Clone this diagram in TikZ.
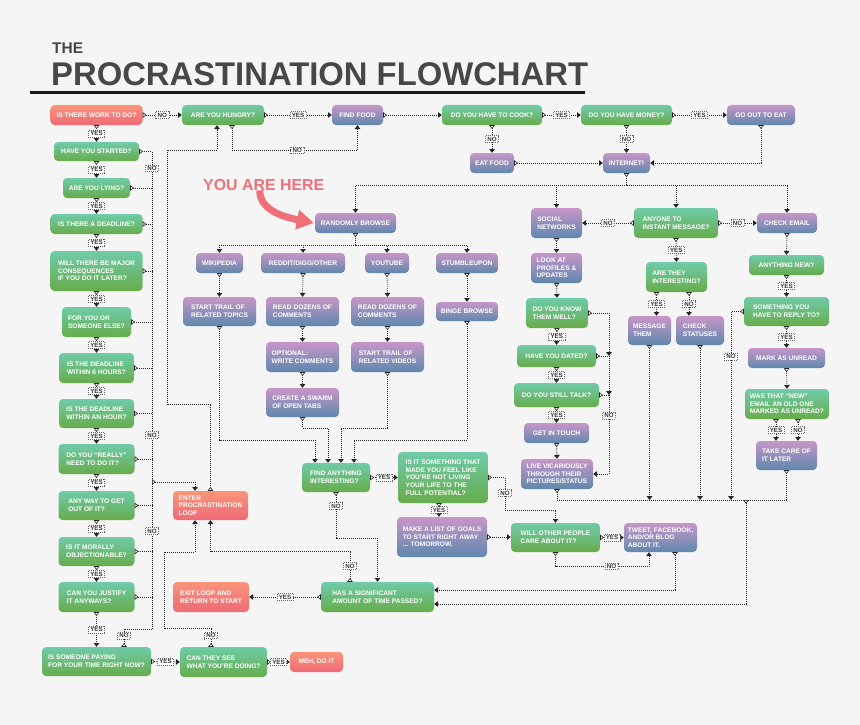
\documentclass[tikz,border=0pt]{standalone}
\usepackage{fontspec}
\setmainfont{Liberation Sans}
\usetikzlibrary{arrows.meta}

\definecolor{paper}{HTML}{F5F5F5}
\definecolor{ink}{HTML}{474747}
\definecolor{qtop}{HTML}{6FCBA9}
\definecolor{qbot}{HTML}{67AC4B}
\definecolor{atop}{HTML}{C896C8}
\definecolor{abot}{HTML}{5E88AD}
\definecolor{rtop}{HTML}{F8957A}
\definecolor{rbot}{HTML}{EF6A76}
\definecolor{herered}{HTML}{EF7078}

\begin{document}
\begin{tikzpicture}[
        x=1pt, y=-1pt,
        box/.style={rectangle, rounded corners=4pt, inner sep=2pt, align=left, text=white, font=\fontsize{6.6}{7.7}\selectfont\bfseries},
        question/.style={box, top color=qtop, bottom color=qbot},
        action/.style={box, top color=atop, bottom color=abot},
        terminal/.style={box, top color=rtop, bottom color=rbot},
        answer/.style={rectangle, draw=black!60, fill=white, line width=0.5pt, inner xsep=2pt, inner ysep=1.2pt, text=black!80, font=\fontsize{6.2}{6.4}\selectfont\bfseries},
        dotline/.style={draw=black!85, line width=0.9pt, dash pattern=on 0.9pt off 1.1pt},
        flow/.style={dotline, {Triangle[reversed, fill=white, line width=0.6pt, length=3.8pt, width=5.5pt]}-{Triangle[length=3.8pt, width=5.5pt]}},
        flowin/.style={dotline, -{Triangle[length=3.8pt, width=5.5pt]}},
        flowout/.style={dotline, {Triangle[reversed, fill=white, line width=0.6pt, length=3.8pt, width=5.5pt]}-}
    ]
        \fill[paper] (0,0) rectangle (860,725);

        % --- TITLE ---
        \node[anchor=base west, inner sep=0pt, text height=11pt, text depth=0pt, text=ink, font=\fontsize{15.5}{16}\selectfont\bfseries] (the) at (52,54) {THE};
        \node[anchor=base west, inner sep=0pt, text height=23.5pt, text depth=0pt, text=ink, font=\fontsize{32.8}{34}\selectfont\bfseries] (title) at (51,85) {PROCRASTINATION FLOWCHART};
        \draw[black!90, line width=2.5pt] (30,92.5) -- (585,92.5);

        % --- WORK QUESTIONS ---
        \node[terminal, minimum width=92pt, minimum height=20pt] (work) at (96.5,115) {IS THERE WORK TO DO?};
        \node[question, minimum width=85pt, minimum height=19pt] (started) at (96.5,151.5) {HAVE YOU STARTED?};
        \node[question, minimum width=67pt, minimum height=20pt] (lying) at (96.5,188) {ARE YOU LYING?};
        \node[question, minimum width=92pt, minimum height=20pt] (deadline) at (96.5,224) {IS THERE A DEADLINE?};
        \node[question, minimum width=92pt, minimum height=40pt] (major) at (96.5,271) {WILL THERE BE MAJOR\\CONSEQUENCES\\IF YOU DO IT LATER?};
        \node[question, minimum width=69pt, minimum height=30pt] (foryou) at (96.5,322) {FOR YOU OR\\SOMEONE ELSE?};
        \node[question, minimum width=75pt, minimum height=30pt] (sixhours) at (96.5,368) {IS THE DEADLINE\\WITHIN 6 HOURS?};
        \node[question, minimum width=75pt, minimum height=29pt] (anhour) at (96.5,413.5) {IS THE DEADLINE\\WITHIN AN HOUR?};
        \node[question, minimum width=76pt, minimum height=30pt] (really) at (96.5,459) {DO YOU ``REALLY''\\NEED TO DO IT?};
        \node[question, minimum width=76pt, minimum height=29pt] (getout) at (96.5,505.5) {ANY WAY TO GET\\OUT OF IT?};
        \node[question, minimum width=76pt, minimum height=29pt] (moral) at (96.5,551.5) {IS IT MORALLY\\OBJECTIONABLE?};
        \node[question, minimum width=76pt, minimum height=30pt] (justify) at (96.5,597) {CAN YOU JUSTIFY\\IT ANYWAYS?};
        \node[question, minimum width=109pt, minimum height=29pt] (paying) at (96.5,661.5) {IS SOMEONE PAYING\\FOR YOUR TIME RIGHT NOW?};
        \node[question, minimum width=87pt, minimum height=30pt] (cansee) at (223.5,662) {CAN THEY SEE\\WHAT YOU'RE DOING?};
        \node[terminal, minimum width=53pt, minimum height=20pt] (meh) at (316.5,662) {MEH, DO IT};

        % --- LOOP ---
        \node[terminal, minimum width=75pt, minimum height=29pt] (loop) at (210.5,505.5) {ENTER\\PROCRASTINATION\\LOOP};
        \node[terminal, minimum width=76pt, minimum height=30pt] (exit) at (211,597) {EXIT LOOP AND\\RETURN TO START};
        \node[question, minimum width=113pt, minimum height=30pt] (passed) at (377.5,597) {HAS A SIGNIFICANT\\AMOUNT OF TIME PASSED?};

        % --- FOOD ---
        \node[question, minimum width=82pt, minimum height=20pt] (hungry) at (223,115) {ARE YOU HUNGRY?};
        \node[action, minimum width=51pt, minimum height=20pt] (findfood) at (357.5,115) {FIND FOOD};
        \node[question, minimum width=100pt, minimum height=20pt] (cook) at (492,115) {DO YOU HAVE TO COOK?};
        \node[question, minimum width=91pt, minimum height=20pt] (money) at (626.5,115) {DO YOU HAVE MONEY?};
        \node[action, minimum width=68pt, minimum height=20pt] (goout) at (761,115) {GO OUT TO EAT};
        \node[action, minimum width=44pt, minimum height=20pt] (eatfood) at (492,163) {EAT FOOD};
        \node[action, minimum width=47pt, minimum height=20pt] (internet) at (626.5,163) {INTERNET!};

        % --- BROWSING ---
        \node[inner sep=0pt, anchor=base west, text=herered, font=\fontsize{15.9}{16}\selectfont\bfseries] (youarehere) at (203,190) {YOU ARE HERE};
        \node[action, minimum width=81pt, minimum height=20pt] (browse) at (355.5,223) {RANDOMLY BROWSE};
        \node[action, minimum width=47pt, minimum height=20pt] (wiki) at (219.5,263) {WIKIPEDIA};
        \node[action, minimum width=84pt, minimum height=20pt] (reddit) at (303,263) {REDDIT/DIGG/OTHER};
        \node[action, minimum width=44pt, minimum height=20pt] (youtube) at (387,263) {YOUTUBE};
        \node[action, minimum width=62pt, minimum height=20pt] (stumble) at (467,263) {STUMBLEUPON};
        \node[action, minimum width=73pt, minimum height=29pt] (topics) at (219.5,311.5) {START TRAIL OF\\RELATED TOPICS};
        \node[action, minimum width=73pt, minimum height=29pt] (redditread) at (302.5,311.5) {READ DOZENS OF\\COMMENTS};
        \node[action, minimum width=73pt, minimum height=29pt] (ytread) at (387.5,311.5) {READ DOZENS OF\\COMMENTS};
        \node[action, minimum width=62pt, minimum height=19pt] (binge) at (467,311.5) {BINGE BROWSE};
        \node[action, minimum width=73pt, minimum height=30pt] (optional) at (302.5,357) {OPTIONAL:\\WRITE COMMENTS};
        \node[action, minimum width=73pt, minimum height=30pt] (videos) at (387.5,357) {START TRAIL OF\\RELATED VIDEOS};
        \node[action, minimum width=73pt, minimum height=29pt] (swarm) at (302.5,402.5) {CREATE A SWARM\\OF OPEN TABS};
        \node[question, minimum width=68pt, minimum height=29pt] (interesting) at (336,477.5) {FIND ANYTHING\\INTERESTING?};
        \node[question, minimum width=90pt, minimum height=51pt] (potential) at (443,477.5) {IS IT SOMETHING THAT\\MADE YOU FEEL LIKE\\YOU'RE NOT LIVING\\YOUR LIFE TO THE\\FULL POTENTIAL?};
        \node[action, minimum width=90pt, minimum height=40pt] (goals) at (442,537) {MAKE A LIST OF GOALS\\TO START RIGHT AWAY\\... TOMORROW.};
        \node[question, minimum width=89pt, minimum height=29pt] (care) at (555.5,537.5) {WILL OTHER PEOPLE\\CARE ABOUT IT?};
        \node[action, minimum width=73pt, minimum height=29pt] (tweet) at (660.5,537.5) {TWEET, FACEBOOK,\\AND/OR BLOG\\ABOUT IT.};

        % --- SOCIAL ---
        \node[action, minimum width=51pt, minimum height=30pt] (social) at (556.5,223) {SOCIAL\\NETWORKS};
        \node[action, minimum width=51pt, minimum height=30pt] (profiles) at (556.5,268) {LOOK AT\\PROFILES \&\\UPDATES};
        \node[question, minimum width=62pt, minimum height=30pt] (knowwell) at (557,313) {DO YOU KNOW\\THEM WELL?};
        \node[question, minimum width=79pt, minimum height=22pt] (dated) at (556.5,356) {HAVE YOU DATED?};
        \node[question, minimum width=85pt, minimum height=24pt] (talk) at (556.5,395) {DO YOU STILL TALK?};
        \node[action, minimum width=65pt, minimum height=20pt] (touch) at (556.5,433) {GET IN TOUCH};
        \node[action, minimum width=72pt, minimum height=30pt] (vicarious) at (557,474) {LIVE VICARIOUSLY\\THROUGH THEIR\\PICTURES/STATUS};
        \node[question, minimum width=84pt, minimum height=30pt] (instant) at (676,223) {ANYONE TO\\INSTANT MESSAGE?};
        \node[question, minimum width=61pt, minimum height=30pt] (worth) at (676.5,277) {ARE THEY\\INTERESTING?};
        \node[action, minimum width=43pt, minimum height=29pt] (message) at (649.5,330.5) {MESSAGE\\THEM};
        \node[action, minimum width=48pt, minimum height=29pt] (statuses) at (700,330.5) {CHECK\\STATUSES};

        % --- EMAIL ---
        \node[action, minimum width=60pt, minimum height=20pt] (email) at (787,223) {CHECK EMAIL};
        \node[question, minimum width=75pt, minimum height=20pt] (anynew) at (786.5,265) {ANYTHING NEW?};
        \node[question, minimum width=85pt, minimum height=29pt] (reply) at (786.5,311.5) {SOMETHING YOU\\HAVE TO REPLY TO?};
        \node[action, minimum width=77pt, minimum height=20pt] (unread) at (786.5,358) {MARK AS UNREAD};
        \node[question, minimum width=84pt, minimum height=30pt] (oldone) at (787,404) {WAS THAT ``NEW''\\EMAIL AN OLD ONE\\MARKED AS UNREAD?};
        \node[action, minimum width=61pt, minimum height=29pt] (later) at (786.5,455.5) {TAKE CARE OF\\IT LATER};

        % --- JUNCTIONS ---
        \coordinate (bus) at (152,0);
        \coordinate (busout) at (152,482);
        \coordinate (busend) at (152,629);
        \coordinate (net) at (626.5,185);
        \coordinate (web) at (355.5,245);
        \coordinate (datedjoin) at (609,356);
        \coordinate (talkjoin) at (609,395);
        \coordinate (hub) at (746,500);

        % --- CONNECTIONS: WORK ---
        \draw[flow] (work.south) -- node[answer] (y1) {YES} (started.north);
        \draw[flow] (started.south) -- node[answer] (y2) {YES} (lying.north);
        \draw[flow] (lying.south) -- node[answer] (y3) {YES} (deadline.north);
        \draw[flow] (deadline.south) -- node[answer] (y4) {YES} (major.north);
        \draw[flow] (major.south) -- node[answer] (y5) {YES} (foryou.north);
        \draw[flow] (foryou.south) -- node[answer] (y6) {YES} (sixhours.north);
        \draw[flow] (sixhours.south) -- node[answer] (y7) {YES} (anhour.north);
        \draw[flow] (anhour.south) -- node[answer] (y8) {YES} (really.north);
        \draw[flow] (really.south) -- node[answer] (y9) {YES} (getout.north);
        \draw[flow] (getout.south) -- node[answer] (y10) {YES} (moral.north);
        \draw[flow] (moral.south) -- node[answer] (y11) {YES} (justify.north);
        \draw[flow] (justify.south) -- node[answer] (y12) {YES} (paying.north);
        \draw[flow] (paying.east) -- node[answer] (y13) {YES} (cansee.west);
        \draw[flow] (cansee.east) -- node[answer] (y14) {YES} (meh.west);

        \draw[flowout] (started.east) -- (started.east -| bus);
        \draw[flowout] (lying.east) -- (lying.east -| bus);
        \draw[flowout] (deadline.east) -- (deadline.east -| bus);
        \draw[flowout] (major.east) -- (major.east -| bus);
        \draw[flowout] (foryou.east) -- (foryou.east -| bus);
        \draw[flowout] (sixhours.east) -- (sixhours.east -| bus);
        \draw[flowout] (anhour.east) -- (anhour.east -| bus);
        \draw[flowout] (really.east) -- (really.east -| bus);
        \draw[flowout] (getout.east) -- (getout.east -| bus);
        \draw[flowout] (moral.east) -- (moral.east -| bus);
        \draw[flowout] (justify.east) -- (justify.east -| bus);
        \draw[dotline] (started.east -| bus) -- node[answer, pos=0.035] (n1) {NO} node[answer, pos=0.594] (n2) {NO} node[answer, pos=0.795] (n3) {NO} (busend);
        \draw[flowout] ([xshift=27.5pt]paying.north) |- node[answer, pos=0.32] (n4) {NO} (busend);
        \draw[flow] (busout) -| ([xshift=-15.5pt]loop.north);

        % --- CONNECTIONS: LOOP ---
        \draw[flow] (loop.north) -- ++(0,-86) -| (167,150) -| ([xshift=-6pt]hungry.south);
        \draw[flow] ([xshift=-12.5pt]cansee.north) -- node[answer, pos=0.64] (n5) {NO} ++(0,-18) -| (164,552) -| ([xshift=-15.5pt]loop.south);
        \draw[flow] ([xshift=-27.5pt]passed.north) -- node[answer, pos=0.53] (n6) {NO} ++(0,-30) -| (loop.south);
        \draw[flow] (passed.west) -- node[answer] (y15) {YES} (exit.east);

        % --- CONNECTIONS: FOOD ---
        \draw[flow] (work.east) -- node[answer] (n7) {NO} (hungry.west);
        \draw[flow] (hungry.east) -- node[answer] (y16) {YES} (findfood.west);
        \draw[flow] ([xshift=9pt]hungry.south) -- ++(0,25) -| node[answer, pos=0.26] (n8) {NO} (findfood.south);
        \draw[flow] (findfood.east) -- (cook.west);
        \draw[flow] (cook.east) -- node[answer] (y17) {YES} (money.west);
        \draw[flow] (money.east) -- node[answer] (y18) {YES} (goout.west);
        \draw[flow] (cook.south) -- node[answer] (n9) {NO} (eatfood.north);
        \draw[flow] (money.south) -- node[answer] (n10) {NO} (internet.north);
        \draw[flow] (eatfood.east) -- (internet.west);
        \draw[flow] (goout.south) |- (internet.east);

        % --- CONNECTIONS: INTERNET ---
        \draw[flowout] (internet.south) -- (net);
        \draw[flowin] (net) -| (browse.north);
        \draw[flowin] (net) -| (social.north);
        \draw[flowin] (net) -| (instant.north);
        \draw[flowin] (net) -| (email.north);
        \draw[herered, line width=7pt, -{Triangle[length=17pt, width=19pt]}] ([xshift=-4pt]youarehere.south) .. controls +(0,20) and +(-30,-6) .. ([xshift=-1pt]browse.west);

        % --- CONNECTIONS: BROWSING ---
        \draw[flowout] (browse.south) -- (web);
        \draw[flowin] (web) -| (wiki.north);
        \draw[flowin] (web) -| (reddit.north);
        \draw[flowin] (web) -| (youtube.north);
        \draw[flowin] (web) -| (stumble.north);
        \draw[flow] (wiki.south) -- (topics.north);
        \draw[flow] (reddit.south) -- (redditread.north);
        \draw[flow] (redditread.south) -- (optional.north);
        \draw[flow] (optional.south) -- (swarm.north);
        \draw[flow] (youtube.south) -- (ytread.north);
        \draw[flow] (ytread.south) -- (videos.north);
        \draw[flow] (stumble.south) -- (binge.north);
        \draw[flow] (topics.south) -- ++(0,114) -| ([xshift=-21pt]interesting.north);
        \draw[flow] (swarm.south) -- ++(0,11) -| ([xshift=-8pt]interesting.north);
        \draw[flow] (videos.south) -- ++(0,56) -| ([xshift=5pt]interesting.north);
        \draw[flow] (binge.south) -- ++(0,119) -| ([xshift=18pt]interesting.north);

        \draw[flow] (interesting.east) -- node[answer] (y19) {YES} (potential.west);
        \draw[flow] (interesting.south) -- node[answer, pos=0.3] (n11) {NO} ++(0,46) -| (passed.north);
        \draw[flow] ([xshift=-4pt]potential.south) -- node[answer] (y20) {YES} ([xshift=-4pt]potential.south |- goals.north);
        \draw[flow] (potential.east) -| node[answer, pos=0.74] (n12) {NO} (505,510) -| (care.north);
        \draw[flow] (goals.east) -- (goals.east -| care.west);
        \draw[flow] (care.east) -- node[answer] (y21) {YES} (tweet.west);
        \draw[flow] (care.south) -- ++(0,14) -| node[answer, pos=0.30] (n13) {NO} ([xshift=-11.5pt]tweet.south);
        \draw[flow] ([xshift=14.5pt]tweet.south) |- ([yshift=7pt]passed.east);

        % --- CONNECTIONS: SOCIAL ---
        \draw[flow] (instant.west) -- node[answer] (n14) {NO} (social.east);
        \draw[flow] (instant.east) -- node[answer] (n15) {NO} (email.west);
        \draw[flow] (social.south) -- (profiles.north);
        \draw[flow] (profiles.south) -- (knowwell.north);
        \draw[flow] (knowwell.south) -- node[answer] (y22) {YES} (dated.north);
        \draw[flow] (dated.south) -- node[answer] (y23) {YES} (talk.north);
        \draw[flow] (talk.south) -- node[answer] (y24) {YES} (touch.north);
        \draw[flow] (touch.south) -- (vicarious.north);
        \draw[flow] (knowwell.east) -| (datedjoin);
        \draw[flowout] (dated.east) -- (datedjoin);
        \draw[flowin] (datedjoin) -- (talkjoin);
        \draw[flowout] (talk.east) -- (talkjoin);
        \draw[flowin] (talkjoin) |- node[answer, pos=0.13] (n16) {NO} (vicarious.east);
        \draw[flow] (instant.south) -- node[answer] (y25) {YES} (worth.north);
        \draw[flow] ([xshift=-20pt]worth.south) -- node[answer] (y26) {YES} ([xshift=-20pt]worth.south |- message.north);
        \draw[flow] ([xshift=12.5pt]worth.south) -- node[answer] (n17) {NO} ([xshift=12.5pt]worth.south |- statuses.north);

        % --- CONNECTIONS: EMAIL ---
        \draw[flow] (email.south) -- (anynew.north);
        \draw[flow] (anynew.south) -- node[answer] (y27) {YES} (reply.north);
        \draw[flow] (reply.south) -- node[answer] (y28) {YES} (unread.north);
        \draw[flow] (unread.south) -- (oldone.north);
        \draw[flow] ([xshift=-11pt]oldone.south) -- node[answer] (y29) {YES} ([xshift=-11pt]oldone.south |- later.north);
        \draw[flow] ([xshift=11pt]oldone.south) -- node[answer] (n18) {NO} ([xshift=11pt]oldone.south |- later.north);
        \draw[flow] (reply.west) -| node[answer, pos=0.62] (n19) {NO} ([xshift=-15pt]hub);

        % --- CONNECTIONS: BACK TO TIME ---
        \draw[flowout] (vicarious.south) |- (hub);
        \draw[flowout] (later.south) |- (hub);
        \draw[flow] (message.south) -- (message.south |- hub);
        \draw[flow] (statuses.south) -- (statuses.south |- hub);
        \draw[flow] (hub) |- ([yshift=-7pt]passed.east);

    \end{tikzpicture}
\end{document}
